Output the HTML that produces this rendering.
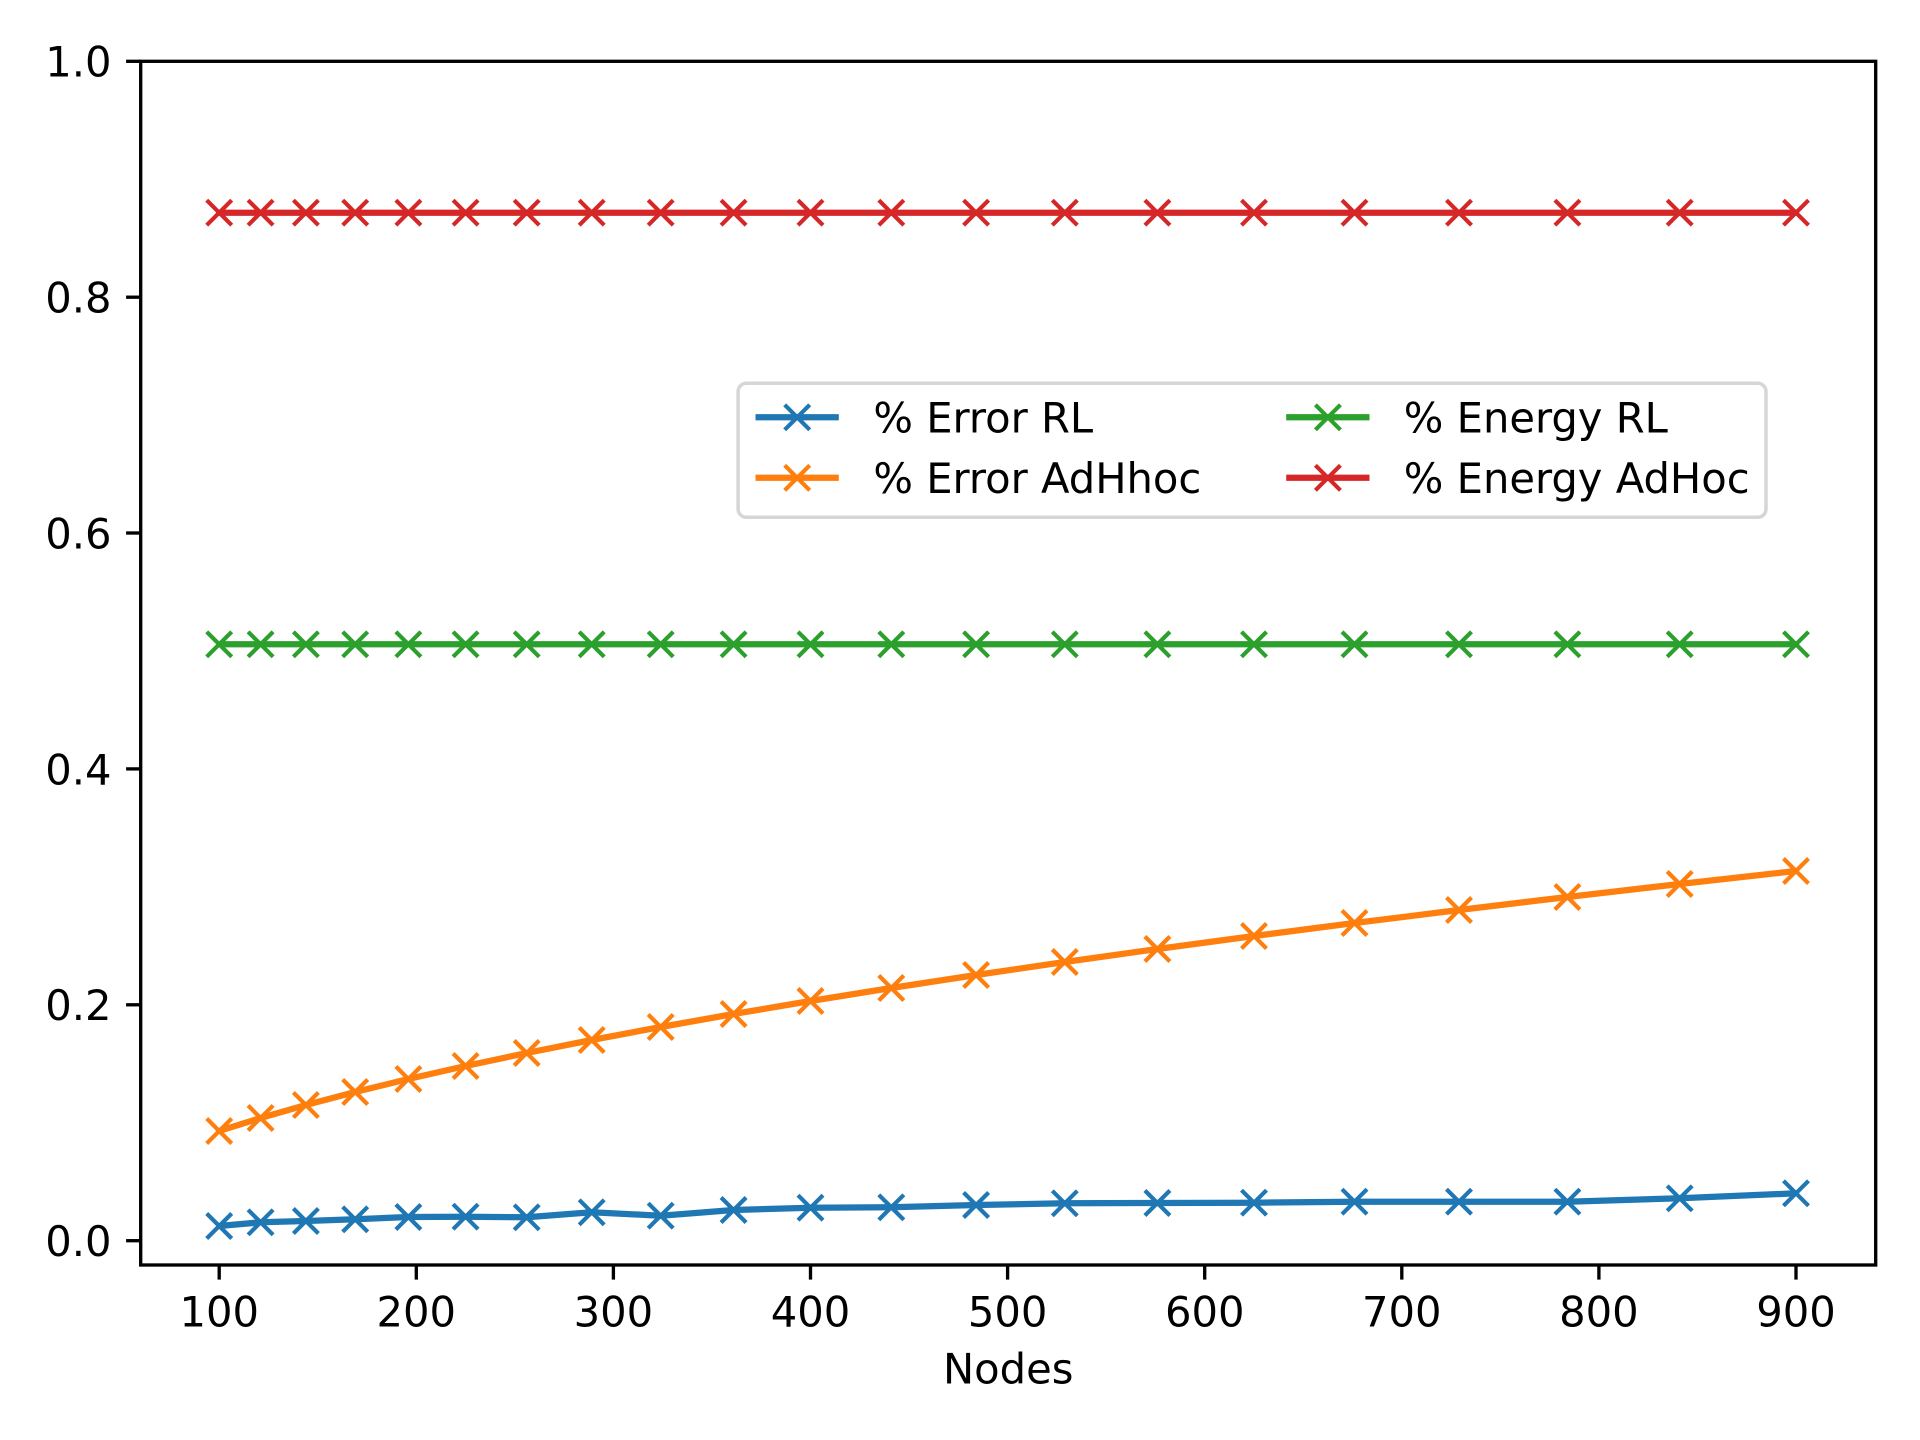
<!DOCTYPE html>
<html>
<head>
<meta charset="utf-8">
<style>
  html, body { margin: 0; padding: 0; background: #ffffff; }
  svg { display: block; }
  text { font-family: "DejaVu Sans", "Liberation Sans", sans-serif; font-size: 41.67px; fill: #000; }
</style>
</head>
<body>
<svg width="1920" height="1440" viewBox="0 0 1920 1440" xmlns="http://www.w3.org/2000/svg">
  <defs>
    <marker id="mb" markerWidth="40" markerHeight="40" refX="20" refY="20" markerUnits="userSpaceOnUse" orient="0" overflow="visible">
      <path d="M7.5,7.5L32.5,32.5M32.5,7.5L7.5,32.5" stroke="#1f77b4" stroke-width="4.17" fill="none"/>
    </marker>
    <marker id="mo" markerWidth="40" markerHeight="40" refX="20" refY="20" markerUnits="userSpaceOnUse" orient="0" overflow="visible">
      <path d="M7.5,7.5L32.5,32.5M32.5,7.5L7.5,32.5" stroke="#ff7f0e" stroke-width="4.17" fill="none"/>
    </marker>
    <marker id="mg" markerWidth="40" markerHeight="40" refX="20" refY="20" markerUnits="userSpaceOnUse" orient="0" overflow="visible">
      <path d="M7.5,7.5L32.5,32.5M32.5,7.5L7.5,32.5" stroke="#2ca02c" stroke-width="4.17" fill="none"/>
    </marker>
    <marker id="mr" markerWidth="40" markerHeight="40" refX="20" refY="20" markerUnits="userSpaceOnUse" orient="0" overflow="visible">
      <path d="M7.5,7.5L32.5,32.5M32.5,7.5L7.5,32.5" stroke="#d62728" stroke-width="4.17" fill="none"/>
    </marker>
  </defs>

  <rect x="0" y="0" width="1920" height="1440" fill="#ffffff"/>

  <!-- Series -->
  <polyline fill="none" stroke="#1f77b4" stroke-width="6.25" stroke-linejoin="round" stroke-linecap="square"
    marker-start="url(#mb)" marker-mid="url(#mb)" marker-end="url(#mb)"
    points="219.2,1226 260.6,1222.3 305.9,1221 355.2,1219.3 408.4,1217 465.6,1216.7 526.7,1217.3 591.7,1212.3 660.7,1215.7 733.6,1210 810.5,1207.7 891.3,1207.3 976.1,1205 1064.8,1203.3 1157.4,1203 1254.0,1202.7 1354.5,1201.7 1459.0,1201.7 1567.4,1201.7 1679.7,1198.3 1796.0,1193.3"/>

  <polyline fill="none" stroke="#ff7f0e" stroke-width="6.25" stroke-linejoin="round" stroke-linecap="square"
    marker-start="url(#mo)" marker-mid="url(#mo)" marker-end="url(#mo)"
    points="219.2,1131 260.6,1118 305.9,1105 355.2,1092 408.4,1079 465.6,1066 526.7,1053 591.7,1040 660.7,1027 733.6,1014 810.5,1001 891.3,988 976.1,975 1064.8,962 1157.4,949 1254.0,936 1354.5,923 1459.0,910 1567.4,897 1679.7,884 1796.0,871"/>

  <polyline fill="none" stroke="#2ca02c" stroke-width="6.25" stroke-linejoin="round" stroke-linecap="square"
    marker-start="url(#mg)" marker-mid="url(#mg)" marker-end="url(#mg)"
    points="219.2,644.3 260.6,644.3 305.9,644.3 355.2,644.3 408.4,644.3 465.6,644.3 526.7,644.3 591.7,644.3 660.7,644.3 733.6,644.3 810.5,644.3 891.3,644.3 976.1,644.3 1064.8,644.3 1157.4,644.3 1254.0,644.3 1354.5,644.3 1459.0,644.3 1567.4,644.3 1679.7,644.3 1796.0,644.3"/>

  <polyline fill="none" stroke="#d62728" stroke-width="6.25" stroke-linejoin="round" stroke-linecap="square"
    marker-start="url(#mr)" marker-mid="url(#mr)" marker-end="url(#mr)"
    points="219.2,212.7 260.6,212.7 305.9,212.7 355.2,212.7 408.4,212.7 465.6,212.7 526.7,212.7 591.7,212.7 660.7,212.7 733.6,212.7 810.5,212.7 891.3,212.7 976.1,212.7 1064.8,212.7 1157.4,212.7 1254.0,212.7 1354.5,212.7 1459.0,212.7 1567.4,212.7 1679.7,212.7 1796.0,212.7"/>

  <!-- Axes spines -->
  <rect x="140.7" y="61.3" width="1735" height="1203.7" fill="none" stroke="#000" stroke-width="3.33" stroke-linejoin="miter"/>

  <!-- Y ticks -->
  <g stroke="#000" stroke-width="3.33">
    <line x1="126.1" y1="1240.7" x2="140.7" y2="1240.7"/>
    <line x1="126.1" y1="1004.8" x2="140.7" y2="1004.8"/>
    <line x1="126.1" y1="768.9" x2="140.7" y2="768.9"/>
    <line x1="126.1" y1="533.0" x2="140.7" y2="533.0"/>
    <line x1="126.1" y1="297.2" x2="140.7" y2="297.2"/>
    <line x1="126.1" y1="61.3" x2="140.7" y2="61.3"/>
  </g>
  <g text-anchor="end">
    <text x="111.5" y="1256.1">0.0</text>
    <text x="111.5" y="1020.2">0.2</text>
    <text x="111.5" y="784.3">0.4</text>
    <text x="111.5" y="548.4">0.6</text>
    <text x="111.5" y="312.6">0.8</text>
    <text x="111.5" y="76.7">1.0</text>
  </g>

  <!-- X ticks -->
  <g stroke="#000" stroke-width="3.33">
    <line x1="219.2" y1="1265" x2="219.2" y2="1279.6"/>
    <line x1="416.3" y1="1265" x2="416.3" y2="1279.6"/>
    <line x1="613.4" y1="1265" x2="613.4" y2="1279.6"/>
    <line x1="810.5" y1="1265" x2="810.5" y2="1279.6"/>
    <line x1="1007.6" y1="1265" x2="1007.6" y2="1279.6"/>
    <line x1="1204.7" y1="1265" x2="1204.7" y2="1279.6"/>
    <line x1="1401.8" y1="1265" x2="1401.8" y2="1279.6"/>
    <line x1="1598.9" y1="1265" x2="1598.9" y2="1279.6"/>
    <line x1="1796.0" y1="1265" x2="1796.0" y2="1279.6"/>
  </g>
  <g text-anchor="middle">
    <text x="219.2" y="1326.3">100</text>
    <text x="416.3" y="1326.3">200</text>
    <text x="613.4" y="1326.3">300</text>
    <text x="810.5" y="1326.3">400</text>
    <text x="1007.6" y="1326.3">500</text>
    <text x="1204.7" y="1326.3">600</text>
    <text x="1401.8" y="1326.3">700</text>
    <text x="1598.9" y="1326.3">800</text>
    <text x="1796.0" y="1326.3">900</text>
    <text x="1008.2" y="1383.3">Nodes</text>
  </g>

  <!-- Legend -->
  <rect x="738.1" y="383.3" width="1027.9" height="134" rx="8.3" ry="8.3" fill="#ffffff" fill-opacity="0.8" stroke="#d6d6d6" stroke-width="3.5"/>
  <line x1="755.5" y1="417.3" x2="838.8" y2="417.3" stroke="#1f77b4" stroke-width="6.25"/>
  <path d="M784.7,404.8L809.7,429.8M809.7,404.8L784.7,429.8" stroke="#1f77b4" stroke-width="4.17" fill="none"/>
  <text x="873.4" y="432.3">% Error RL</text>

  <line x1="755.5" y1="477.8" x2="838.8" y2="477.8" stroke="#ff7f0e" stroke-width="6.25"/>
  <path d="M784.7,465.3L809.7,490.3M809.7,465.3L784.7,490.3" stroke="#ff7f0e" stroke-width="4.17" fill="none"/>
  <text x="873.4" y="492.8">% Error AdHhoc</text>

  <line x1="1286.2" y1="417.3" x2="1369.5" y2="417.3" stroke="#2ca02c" stroke-width="6.25"/>
  <path d="M1315.4,404.8L1340.4,429.8M1340.4,404.8L1315.4,429.8" stroke="#2ca02c" stroke-width="4.17" fill="none"/>
  <text x="1403.8" y="432.3">% Energy RL</text>

  <line x1="1286.2" y1="477.8" x2="1369.5" y2="477.8" stroke="#d62728" stroke-width="6.25"/>
  <path d="M1315.4,465.3L1340.4,490.3M1340.4,465.3L1315.4,490.3" stroke="#d62728" stroke-width="4.17" fill="none"/>
  <text x="1403.8" y="492.8">% Energy AdHoc</text>
</svg>
</body>
</html>
